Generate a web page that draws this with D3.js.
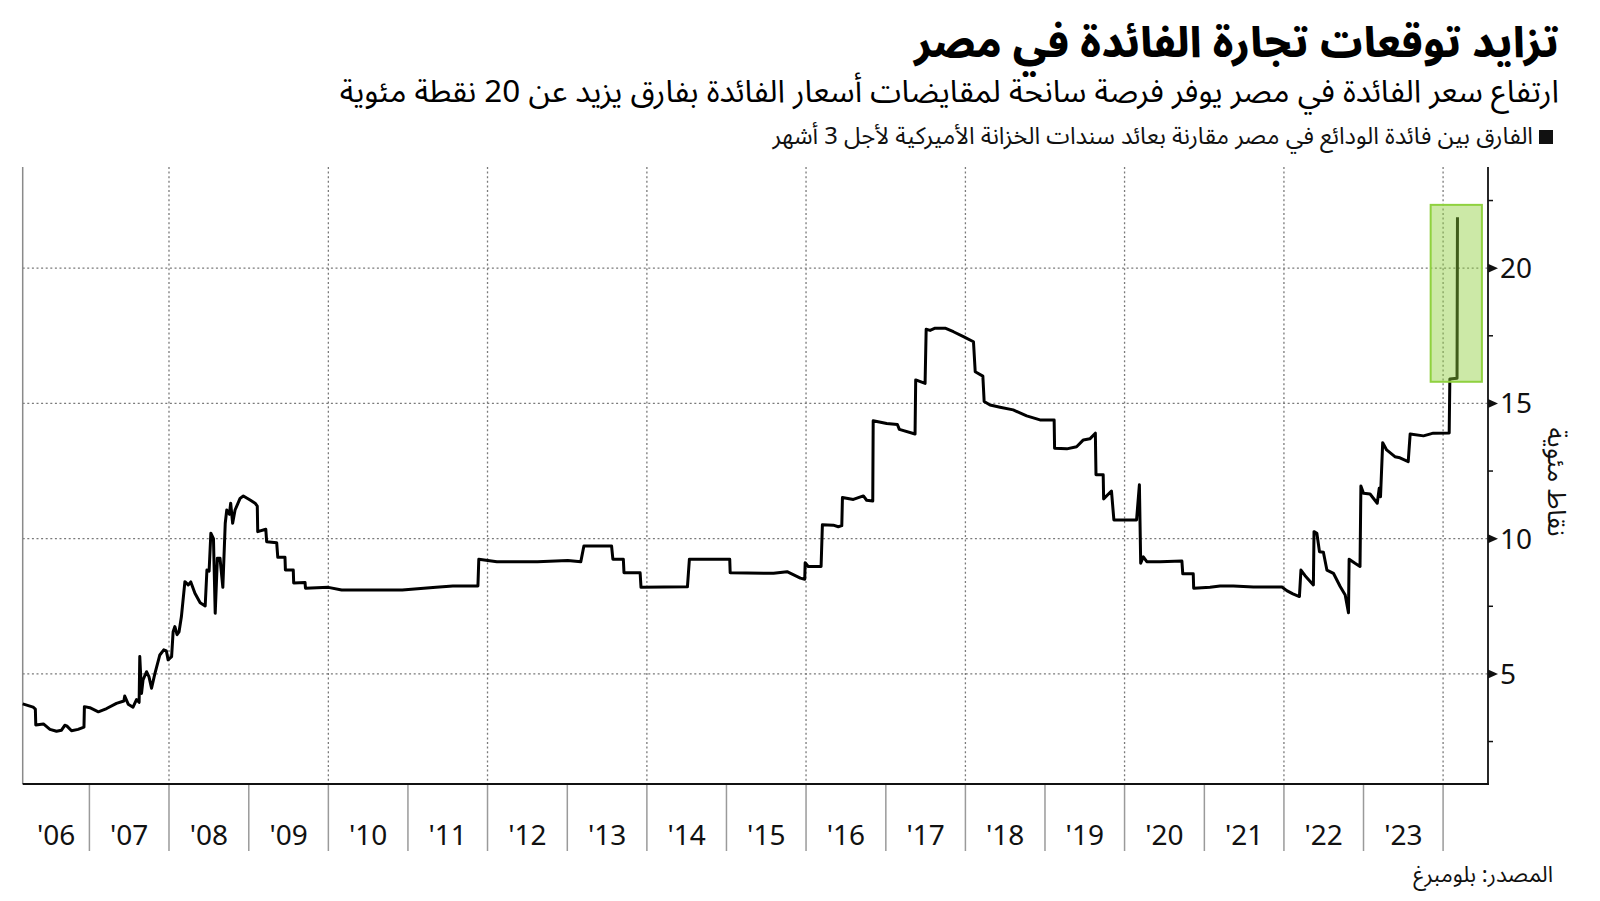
<!DOCTYPE html>
<html>
<head>
<meta charset="utf-8">
<script src="https://cdn.jsdelivr.net/npm/d3@7"></script>
<style>
  html, body { margin: 0; padding: 0; background: #fff; }
  svg { display: block; }
</style>
</head>
<body>
<svg id="chart" width="1600" height="901"></svg>
<script>
// ---------------- DATA ----------------
const titleText = "تزايد توقعات تجارة الفائدة في مصر";
const subtitleText = "ارتفاع سعر الفائدة في مصر يوفر فرصة سانحة لمقايضات أسعار الفائدة بفارق يزيد عن 20 نقطة مئوية";
const legendText = "الفارق بين فائدة الودائع في مصر مقارنة بعائد سندات الخزانة الأميركية لأجل 3 أشهر";
const sourceText = "المصدر: بلومبرغ";
const yAxisTitle = "نقاط مئوية";

const yearLabels = ["'06","'07","'08","'09","'10","'11","'12","'13","'14","'15","'16","'17","'18","'19","'20","'21","'22","'23"];
const yearStarts = [2006,2007,2008,2009,2010,2011,2012,2013,2014,2015,2016,2017,2018,2019,2020,2021,2022,2023,2024];
const gridYears = [2008,2010,2012,2014,2016,2018,2020,2022,2024];
const yMajorTicks = [5, 10, 15, 20];
const yMinorTicks = [2.5, 7.5, 12.5, 17.5, 22.5];
const xDomain = ["2006-03-01", "2024-07-25"];
const yDomain = [0.93, 23.74];
const highlight = { start: "2023-11-05", end: "2024-06-27", low: 15.8, high: 22.34 };

// spread (percentage points): [date, value]
const spread = [
["2006-03-01",3.89],["2006-04-18",3.77],["2006-04-28",3.70],["2006-04-30",3.11],
["2006-06-04",3.15],["2006-07-04",2.95],["2006-08-03",2.88],["2006-08-26",2.92],
["2006-09-10",3.10],["2006-09-19",3.08],["2006-10-11",2.90],["2006-11-10",2.95],
["2006-12-07",3.03],["2006-12-09",3.79],["2007-01-03",3.75],["2007-02-11",3.60],
["2007-03-21",3.72],["2007-05-05",3.91],["2007-06-08",4.00],["2007-06-12",4.18],
["2007-06-28",3.88],["2007-07-20",3.77],["2007-08-05",4.05],["2007-08-17",3.95],
["2007-08-20",5.64],["2007-08-28",4.28],["2007-09-04",4.78],["2007-09-20",5.08],
["2007-10-01",4.90],["2007-10-13",4.47],["2007-10-28",5.00],["2007-11-20",5.70],
["2007-12-08",5.89],["2007-12-20",5.85],["2007-12-28",5.52],["2008-01-13",5.64],
["2008-01-20",6.56],["2008-01-28",6.75],["2008-02-07",6.45],["2008-02-16",6.55],
["2008-02-27",7.12],["2008-03-14",8.41],["2008-03-29",8.29],["2008-04-10",8.40],
["2008-04-29",7.98],["2008-05-23",7.63],["2008-06-15",7.51],["2008-06-23",8.84],
["2008-07-03",8.80],["2008-07-11",10.20],["2008-07-23",10.00],["2008-07-31",7.24],
["2008-08-10",9.28],["2008-08-22",9.28],["2008-09-04",8.20],["2008-09-15",10.57],
["2008-09-22",11.06],["2008-10-04",10.90],["2008-10-10",11.31],["2008-10-19",10.57],
["2008-10-30",11.06],["2008-11-22",11.49],["2008-12-07",11.58],["2009-01-07",11.43],
["2009-01-30",11.31],["2009-02-09",11.20],["2009-02-11",10.26],["2009-03-20",10.35],
["2009-03-24",9.89],["2009-05-09",9.85],["2009-05-14",9.31],["2009-06-16",9.31],
["2009-06-18",8.84],["2009-07-24",8.84],["2009-07-26",8.36],["2009-09-16",8.38],
["2009-09-18",8.17],["2010-01-01",8.20],["2010-03-03",8.10],["2010-07-04",8.10],
["2010-12-06",8.10],["2011-05-10",8.20],["2011-07-26",8.25],["2011-11-18",8.25],
["2011-11-22",9.24],["2012-02-13",9.15],["2012-08-17",9.15],["2013-01-03",9.19],
["2013-03-04",9.15],["2013-03-18",9.73],["2013-07-23",9.73],["2013-07-29",9.24],
["2013-09-15",9.24],["2013-09-18",8.74],["2013-12-01",8.74],["2013-12-05",8.20],
["2014-07-06",8.22],["2014-07-15",9.24],["2015-01-16",9.24],["2015-01-18",8.74],
["2015-08-05",8.72],["2015-10-06",8.78],["2015-12-06",8.54],["2015-12-26",8.50],
["2015-12-28",9.11],["2016-01-11",8.97],["2016-03-10",8.97],["2016-03-16",10.51],
["2016-05-05",10.50],["2016-05-28",10.44],["2016-06-13",10.48],["2016-06-16",11.52],
["2016-08-05",11.45],["2016-09-20",11.58],["2016-10-05",11.42],["2016-11-02",11.39],
["2016-11-04",14.36],["2017-01-05",14.26],["2017-02-23",14.22],["2017-03-04",14.04],
["2017-05-15",13.87],["2017-05-18",15.87],["2017-06-30",15.74],["2017-07-05",17.74],
["2017-07-23",17.70],["2017-08-15",17.78],["2017-09-30",17.78],["2017-11-07",17.65],
["2017-12-23",17.47],["2018-02-07",17.28],["2018-02-15",16.17],["2018-03-22",16.01],
["2018-03-28",15.07],["2018-04-24",14.94],["2018-06-09",14.86],["2018-08-08",14.76],
["2018-10-09",14.54],["2018-12-09",14.39],["2019-02-12",14.39],["2019-02-14",13.34],
["2019-04-11",13.32],["2019-05-26",13.40],["2019-06-26",13.65],["2019-07-26",13.69],
["2019-08-20",13.90],["2019-08-23",12.36],["2019-09-25",12.36],["2019-09-27",11.47],
["2019-11-02",11.76],["2019-11-13",10.69],["2020-02-25",10.69],["2020-03-09",11.99],
["2020-03-15",9.09],["2020-03-27",9.33],["2020-04-12",9.15],["2020-06-12",9.15],
["2020-09-20",9.17],["2020-09-24",8.70],["2020-11-11",8.70],["2020-11-13",8.17],
["2021-01-27",8.20],["2021-03-14",8.25],["2021-05-14",8.25],["2021-08-14",8.21],
["2021-12-23",8.21],["2022-01-14",8.08],["2022-02-11",7.96],["2022-03-13",7.86],
["2022-03-20",8.84],["2022-04-08",8.63],["2022-05-16",8.29],["2022-05-19",10.26],
["2022-06-01",10.20],["2022-06-13",9.52],["2022-07-01",9.50],["2022-07-17",8.84],
["2022-08-16",8.72],["2022-09-16",8.23],["2022-10-09",7.92],["2022-10-24",7.26],
["2022-10-27",9.24],["2022-11-23",9.09],["2022-12-16",8.97],["2022-12-20",11.95],
["2023-01-01",11.68],["2023-01-31",11.65],["2023-03-05",11.31],["2023-03-14",11.86],
["2023-03-20",11.55],["2023-03-30",13.55],["2023-04-17",13.28],["2023-05-25",13.03],
["2023-06-17",12.99],["2023-07-25",12.85],["2023-08-03",13.87],["2023-10-03",13.80],
["2023-11-17",13.90],["2024-01-29",13.91],["2024-02-01",15.90],["2024-03-05",15.93],
["2024-03-07",21.88]
];

// ---------------- CHART ----------------
const parse = d3.timeParse("%Y-%m-%d");
const data = spread.map(d => ({ date: parse(d[0]), value: d[1] }));

const plot = { left: 22.7, right: 1488, top: 167, bottom: 784 };
const x = d3.scaleTime().domain(xDomain.map(parse)).range([plot.left, plot.right]);
const y = d3.scaleLinear().domain(yDomain).range([plot.bottom, plot.top]);

const svg = d3.select("#chart");
const arabicFont = "'Noto Sans Arabic', 'DejaVu Sans', sans-serif";
const latinFont = "'Noto Sans', 'Open Sans', sans-serif";

svg.append("rect").attr("width", 1600).attr("height", 901).attr("fill", "#fff");

// horizontal grid
svg.append("g").selectAll("line").data(yMajorTicks).join("line")
  .attr("x1", plot.left).attr("x2", plot.right)
  .attr("y1", d => y(d)).attr("y2", d => y(d))
  .attr("stroke", "#7a7a7a").attr("stroke-width", 1.3).attr("stroke-dasharray", "2,2.6");

// vertical grid
svg.append("g").selectAll("line").data(gridYears).join("line")
  .attr("x1", d => x(new Date(d, 0, 1))).attr("x2", d => x(new Date(d, 0, 1)))
  .attr("y1", plot.top).attr("y2", plot.bottom)
  .attr("stroke", "#7a7a7a").attr("stroke-width", 1.3).attr("stroke-dasharray", "2,2.6");

// year tick lines below axis
svg.append("g").selectAll("line").data(yearStarts.slice(1)).join("line")
  .attr("x1", d => x(new Date(d, 0, 1))).attr("x2", d => x(new Date(d, 0, 1)))
  .attr("y1", plot.bottom).attr("y2", 851)
  .attr("stroke", "#9a9a9a").attr("stroke-width", 1.5);

// year labels
svg.append("g").selectAll("text").data(yearLabels).join("text")
  .attr("x", (d, i) => {
    const a = Math.max(x(new Date(yearStarts[i], 0, 1)), plot.left);
    const b = x(new Date(yearStarts[i + 1], 0, 1));
    return (a + b) / 2;
  })
  .attr("y", 845)
  .attr("text-anchor", "middle")
  .attr("font-family", latinFont)
  .attr("font-size", 28)
  .attr("fill", "#111")
  .text(d => d);

// left border
svg.append("line").attr("x1", plot.left).attr("x2", plot.left)
  .attr("y1", plot.top).attr("y2", plot.bottom)
  .attr("stroke", "#8a8a8a").attr("stroke-width", 1.5);

// line
const line = d3.line().x(d => x(d.date)).y(d => y(d.value));
svg.append("path").datum(data)
  .attr("d", line).attr("fill", "none")
  .attr("stroke", "#000").attr("stroke-width", 3)
  .attr("stroke-linejoin", "round");

// highlight box
svg.append("rect")
  .attr("x", x(parse(highlight.start)))
  .attr("y", y(highlight.high))
  .attr("width", x(parse(highlight.end)) - x(parse(highlight.start)))
  .attr("height", y(highlight.low) - y(highlight.high))
  .attr("fill", "rgba(143, 206, 60, 0.45)")
  .attr("stroke", "#8fd13f").attr("stroke-width", 2);

// axes lines
svg.append("line").attr("x1", plot.left).attr("x2", plot.right + 0.75)
  .attr("y1", plot.bottom).attr("y2", plot.bottom)
  .attr("stroke", "#111").attr("stroke-width", 2);
svg.append("line").attr("x1", plot.right).attr("x2", plot.right)
  .attr("y1", plot.top).attr("y2", plot.bottom + 1)
  .attr("stroke", "#111").attr("stroke-width", 1.8);

// y minor ticks
svg.append("g").selectAll("line").data(yMinorTicks).join("line")
  .attr("x1", plot.right).attr("x2", plot.right + 5)
  .attr("y1", d => y(d)).attr("y2", d => y(d))
  .attr("stroke", "#111").attr("stroke-width", 1.5);

// y major ticks (triangles)
svg.append("g").selectAll("path").data(yMajorTicks).join("path")
  .attr("d", d => `M${plot.right},${y(d) - 4.5} L${plot.right + 10},${y(d)} L${plot.right},${y(d) + 4.5} Z`)
  .attr("fill", "#111");

// y labels
svg.append("g").selectAll("text").data(yMajorTicks).join("text")
  .attr("x", plot.right + 12)
  .attr("y", d => y(d))
  .attr("dy", "0.36em")
  .attr("font-family", latinFont)
  .attr("font-size", 28)
  .attr("fill", "#111")
  .text(d => d);

// y axis title
const yt = svg.append("text")
  .attr("transform", "translate(1557,482) rotate(90)")
  .attr("text-anchor", "middle")
  .attr("dy", "0.35em")
  .attr("font-family", arabicFont)
  .attr("font-size", 22)
  .attr("fill", "#111")
  .text(yAxisTitle);

// titles
function fit(sel, target) {
  const w = sel.node().getComputedTextLength();
  const fs = parseFloat(sel.attr("font-size"));
  sel.attr("font-size", fs * target / w);
}

const title = svg.append("text")
  .attr("x", 1559).attr("y", 57)
  .attr("text-anchor", "end")
  .attr("font-family", arabicFont)
  .attr("font-weight", 800)
  .attr("font-size", 40)
  .attr("fill", "#000")
  .text(titleText);
fit(title, 645);

const sub = svg.append("text")
  .attr("x", 1559).attr("y", 102)
  .attr("text-anchor", "end")
  .attr("font-family", arabicFont)
  .attr("font-size", 30)
  .attr("fill", "#000")
  .text(subtitleText);
fit(sub, 1220);

const leg = svg.append("text")
  .attr("x", 1533).attr("y", 144)
  .attr("text-anchor", "end")
  .attr("font-family", arabicFont)
  .attr("font-size", 21)
  .attr("fill", "#111")
  .text(legendText);
fit(leg, 761);

svg.append("rect").attr("x", 1539).attr("y", 130).attr("width", 14).attr("height", 14).attr("fill", "#111");

const src = svg.append("text")
  .attr("x", 1553).attr("y", 882)
  .attr("text-anchor", "end")
  .attr("font-family", arabicFont)
  .attr("font-size", 21)
  .attr("fill", "#111")
  .text(sourceText);
fit(src, 140);

fit(yt, 109);
</script>
</body>
</html>
